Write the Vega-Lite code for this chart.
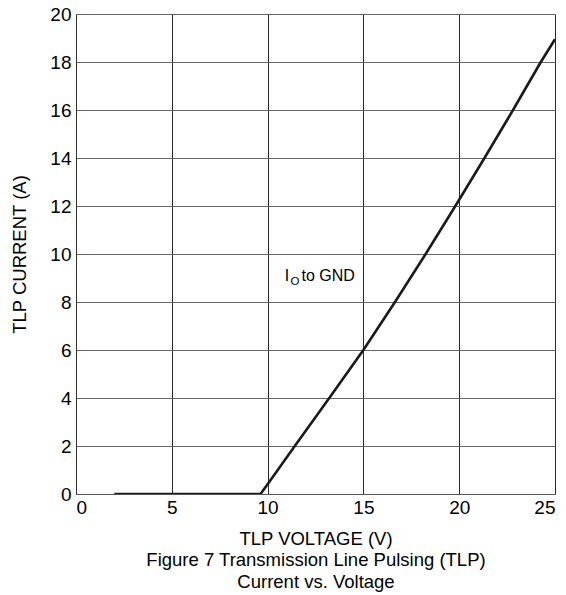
{
  "$schema": "https://vega.github.io/schema/vega-lite/v6.json",
  "width": 479,
  "height": 480,
  "autosize": "none",
  "padding": {"left": 76, "top": 14, "right": 11, "bottom": 101},
  "background": "white",
  "config": {
    "font": "Liberation Sans",
    "view": {"stroke": null},
    "axis": {"labelFont": "Liberation Sans", "titleFont": "Liberation Sans", "labelColor": "#000", "titleColor": "#000", "titleFontWeight": "normal"}
  },
  "datasets": {
    "curve": [
      {"v": 2, "i": 0},
      {"v": 9.63, "i": 0},
      {"v": 10, "i": 0.41},
      {"v": 11.42, "i": 2},
      {"v": 13.22, "i": 4},
      {"v": 15, "i": 6},
      {"v": 16.65, "i": 8},
      {"v": 18.25, "i": 10},
      {"v": 19.8, "i": 12},
      {"v": 21.32, "i": 14},
      {"v": 22.81, "i": 16},
      {"v": 24.26, "i": 18},
      {"v": 25, "i": 18.95}
    ],
    "note": [
      {"v": 10.9, "i": 8.86, "part": "I"},
      {"v": 10.9, "i": 8.86, "part": "O"},
      {"v": 10.9, "i": 8.86, "part": "to GND"}
    ]
  },
  "layer": [
    {
      "data": {"name": "curve"},
      "mark": {"type": "line", "color": "#1a1a1a", "strokeWidth": 2.6, "strokeJoin": "round", "clip": true},
      "encoding": {
        "x": {
          "field": "v", "type": "quantitative",
          "scale": {"domain": [0, 25], "nice": false, "zero": false},
          "axis": {
            "values": [0, 5, 10, 15, 20, 25],
            "grid": true, "gridColor": "#2a2a2a", "gridWidth": 1, "gridOpacity": 1,
            "domain": true, "domainColor": "#555", "domainWidth": 1,
            "ticks": false, "labelPadding": 4, "labelFontSize": 19,
            "title": ["TLP VOLTAGE (V)", "Figure 7 Transmission Line Pulsing (TLP)", "Current vs. Voltage"],
            "titleFontSize": 18.5, "titleLineHeight": 21.5, "titlePadding": 12
          }
        },
        "y": {
          "field": "i", "type": "quantitative",
          "scale": {"domain": [0, 20], "nice": false},
          "axis": {
            "values": [0, 2, 4, 6, 8, 10, 12, 14, 16, 18, 20],
            "grid": true, "gridColor": "#666", "gridWidth": 1, "gridOpacity": 1,
            "domain": true, "domainColor": "#333", "domainWidth": 1,
            "ticks": false, "labelPadding": 5, "labelFontSize": 19,
            "title": "TLP CURRENT (A)", "titleFontSize": 18.5, "titlePadding": 20
          }
        }
      }
    },
    {
      "data": {"name": "note"},
      "transform": [{"filter": "datum.part === 'I'"}],
      "mark": {"type": "text", "align": "left", "baseline": "alphabetic", "fontSize": 16, "color": "#000"},
      "encoding": {"x": {"field": "v", "type": "quantitative"}, "y": {"field": "i", "type": "quantitative"}, "text": {"field": "part"}}
    },
    {
      "data": {"name": "note"},
      "transform": [{"filter": "datum.part === 'O'"}],
      "mark": {"type": "text", "align": "left", "baseline": "alphabetic", "fontSize": 11.5, "dx": 5.7, "dy": 4, "color": "#000"},
      "encoding": {"x": {"field": "v", "type": "quantitative"}, "y": {"field": "i", "type": "quantitative"}, "text": {"field": "part"}}
    },
    {
      "data": {"name": "note"},
      "transform": [{"filter": "datum.part === 'to GND'"}],
      "mark": {"type": "text", "align": "left", "baseline": "alphabetic", "fontSize": 16, "dx": 16.7, "color": "#000"},
      "encoding": {"x": {"field": "v", "type": "quantitative"}, "y": {"field": "i", "type": "quantitative"}, "text": {"field": "part"}}
    }
  ]
}
